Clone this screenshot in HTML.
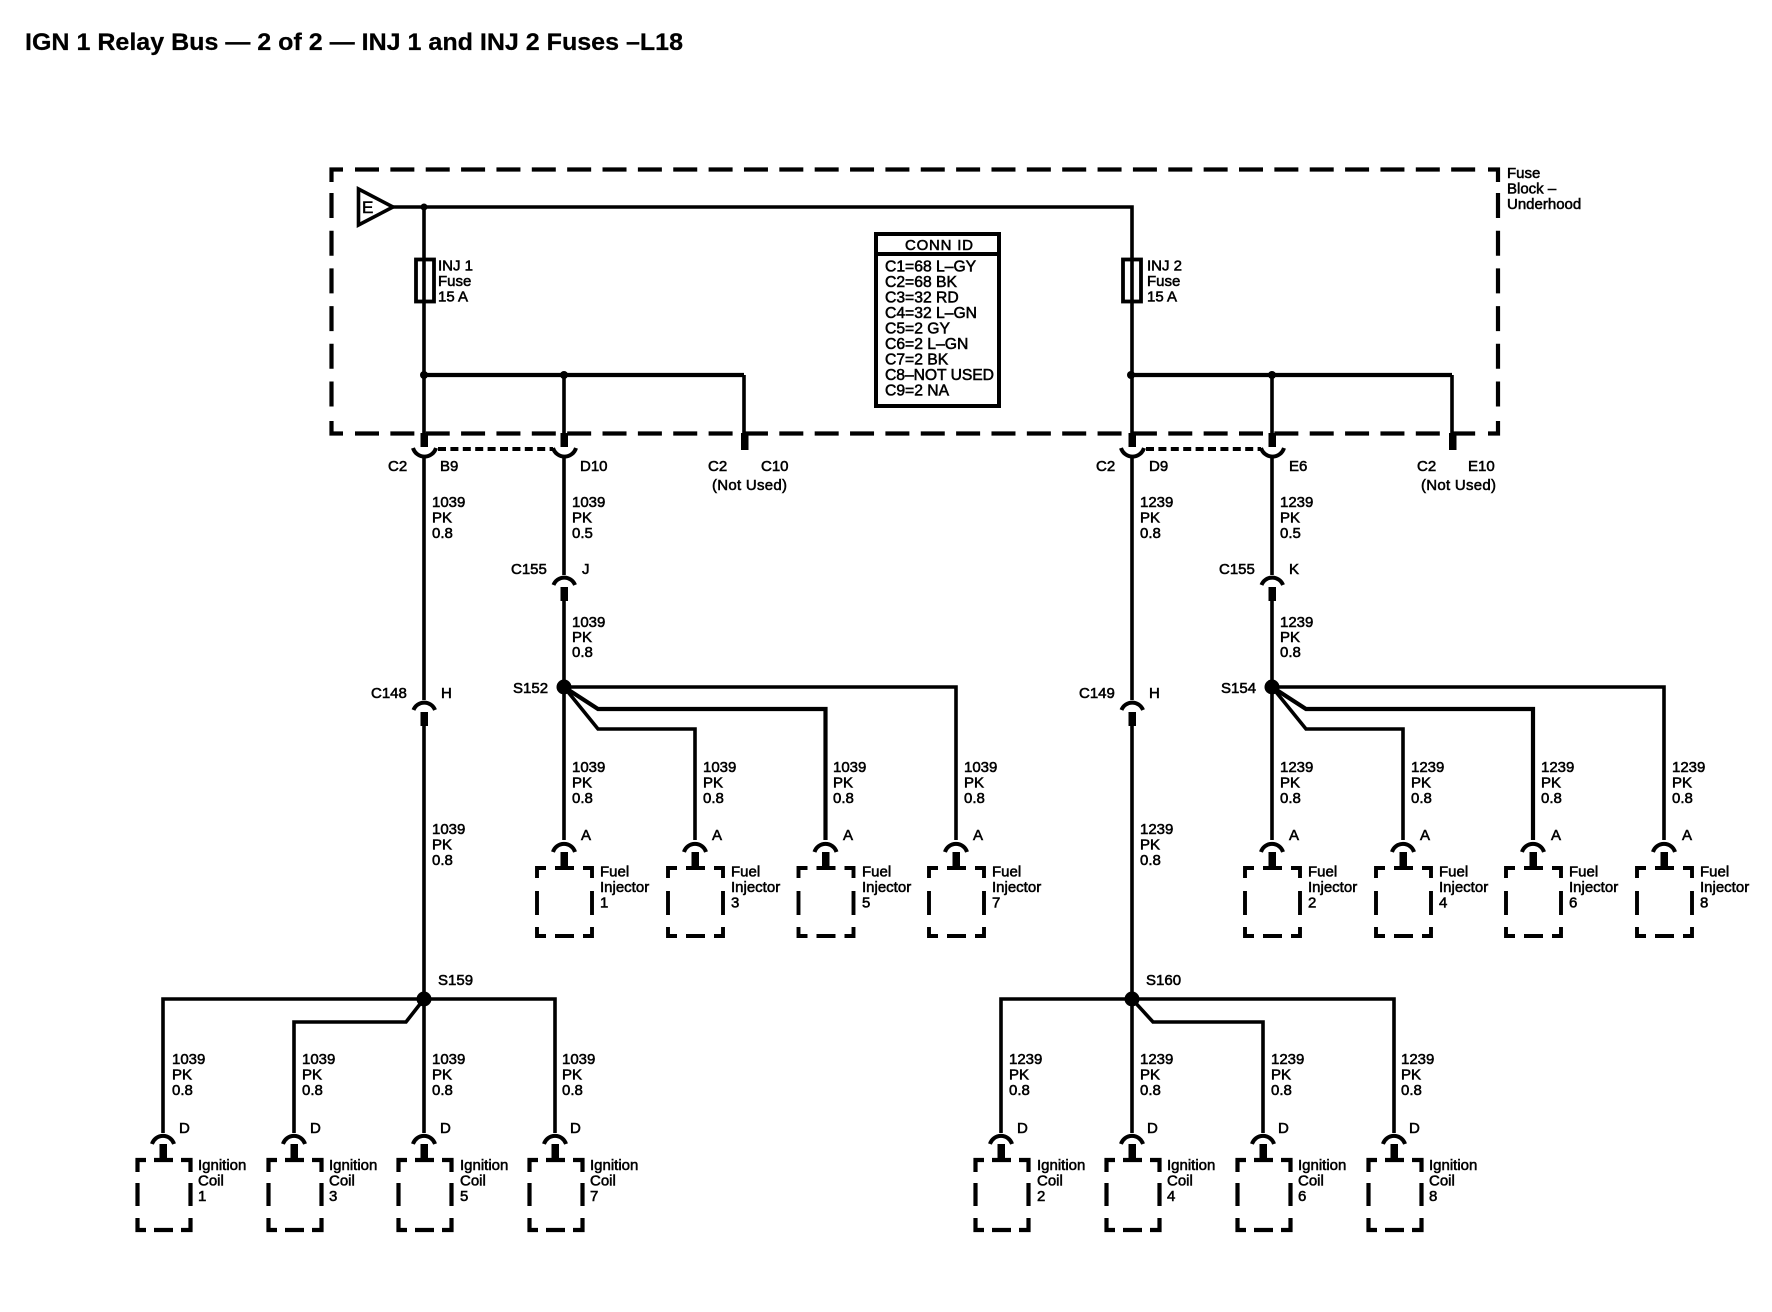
<!DOCTYPE html>
<html><head><meta charset="utf-8"><title>IGN 1 Relay Bus</title>
<style>
html,body{margin:0;padding:0;background:#fff;width:1772px;height:1312px;overflow:hidden}
svg{display:block}
text{font-family:"Liberation Sans",sans-serif;font-size:15px;fill:#000;stroke:#000;stroke-width:.55px}
.w{fill:none;stroke:#000;stroke-width:3.6;stroke-linejoin:miter}
</style></head><body>
<svg width="1772" height="1312" viewBox="0 0 1772 1312" xmlns="http://www.w3.org/2000/svg">
<defs>
<g id="fuel" fill="none" stroke="#000">
<path d="M-11,852A11.5,11.5 0 0 1 11,852" stroke-width="4"/>
<rect x="-3.5" y="852" width="7.5" height="15" fill="#000" stroke="none"/>
<path stroke-width="3.9" d="M-27,878V868H-18M-9,868H10M19,868H28V878M-27,891V915M28,891V915M-27,927V936H-18M-9,936H10M19,936H28V927"/>
</g>
<g id="coil" fill="none" stroke="#000">
<path d="M-11,1144A11.5,11.5 0 0 1 11,1144" stroke-width="4"/>
<rect x="-3.5" y="1144" width="7.5" height="16" fill="#000" stroke="none"/>
<path stroke-width="4.2" d="M-25.5,1172V1160H-17M-9,1160H10M18,1160H27.5V1172M-25.5,1183V1206M27.5,1183V1206M-25.5,1218V1230H-17M-9,1230H10M18,1230H27.5V1218"/>
</g>
<g id="cupd" fill="none" stroke="#000">
<rect x="-3.5" y="433" width="7.5" height="14" fill="#000" stroke="none"/>
<path d="M-11,448A12,12 0 0 0 12,448" stroke-width="4"/>
</g>
<g id="cupu" fill="none" stroke="#000">
<path d="M-10.5,10A11.5,11.5 0 0 1 11,10" stroke-width="4"/>
<rect x="-3.5" y="12" width="7.5" height="14" fill="#000" stroke="none"/>
</g>
</defs>

<text x="25" y="50" textLength="658" lengthAdjust="spacingAndGlyphs" style="font-size:24px;font-weight:bold;stroke-width:.25px">IGN 1 Relay Bus — 2 of 2 — INJ 1 and INJ 2 Fuses –L18</text>

<!-- fuse block dashed outline -->
<g fill="none" stroke="#000" stroke-width="4.2">
<path d="M331.5,182V169.5H343M331.5,421V433.5H343M1488,169.5H1498V182M1488,433.5H1498V421"/>
<path d="M355,169.5H1477M355,433.5H1477" stroke-dasharray="24 11.36"/>
<path d="M331.5,193V409M1498,193V409" stroke-dasharray="25 12.7"/>
</g>

<!-- E triangle -->
<polygon points="358.5,189 358.5,225 393,207" fill="#fff" stroke="#000" stroke-width="3.6"/>
<text x="362" y="213" style="font-size:17px">E</text>

<!-- top rail -->
<path class="w" d="M391,207H1132V433"/>
<path class="w" d="M424,207V433"/>
<circle cx="424" cy="207" r="3.5"/>
<rect x="416" y="259.5" width="18" height="42" fill="none" stroke="#000" stroke-width="3.8"/>
<rect x="1123" y="259.5" width="18" height="42" fill="none" stroke="#000" stroke-width="3.8"/>
<text x="438" y="270.5">INJ 1<tspan x="438" dy="15.7">Fuse</tspan><tspan x="438" dy="15.5">15 A</tspan></text>
<text x="1147" y="270.5">INJ 2<tspan x="1147" dy="15.7">Fuse</tspan><tspan x="1147" dy="15.5">15 A</tspan></text>

<!-- buses -->
<path class="w" style="stroke-width:4.2" d="M424,375H744"/>
<path class="w" style="stroke-width:4.2" d="M1132,375H1452"/>
<path class="w" d="M564,375V433M744,375V433M1272,375V433M1452,375V433"/>
<circle cx="424" cy="375" r="4"/><circle cx="564" cy="375" r="4"/>
<circle cx="1131" cy="375" r="4"/><circle cx="1272" cy="375" r="4"/>
<rect x="741" y="433" width="7.5" height="17"/>
<rect x="1449" y="433" width="7.5" height="17"/>

<!-- C2 connectors -->
<use href="#cupd" x="424"/><use href="#cupd" x="564"/><use href="#cupd" x="1132"/><use href="#cupd" x="1272"/>
<path d="M438,449H553M1146,449H1261" fill="none" stroke="#000" stroke-width="4" stroke-dasharray="8 4.4"/>
<text x="388" y="471">C2</text><text x="440" y="471">B9</text><text x="580" y="471">D10</text>
<text x="708" y="471">C2</text><text x="761" y="471">C10</text><text x="712" y="490" textLength="75">(Not Used)</text>
<text x="1096" y="471">C2</text><text x="1149" y="471">D9</text><text x="1289" y="471">E6</text>
<text x="1417" y="471">C2</text><text x="1468" y="471">E10</text><text x="1421" y="490" textLength="75">(Not Used)</text>

<g transform="translate(-1,0)">
<text x="433" y="507">1039<tspan x="433" dy="15.5">PK</tspan><tspan x="433" dy="15.5">0.8</tspan></text>
<text x="573" y="507">1039<tspan x="573" dy="15.5">PK</tspan><tspan x="573" dy="15.5">0.5</tspan></text>
<text x="1141" y="507">1239<tspan x="1141" dy="15.5">PK</tspan><tspan x="1141" dy="15.5">0.8</tspan></text>
<text x="1281" y="507">1239<tspan x="1281" dy="15.5">PK</tspan><tspan x="1281" dy="15.5">0.5</tspan></text>
<text x="573" y="627">1039<tspan x="573" dy="15">PK</tspan><tspan x="573" dy="15">0.8</tspan></text>
<text x="1281" y="627">1239<tspan x="1281" dy="15">PK</tspan><tspan x="1281" dy="15">0.8</tspan></text>
<text x="433" y="834">1039<tspan x="433" dy="15.5">PK</tspan><tspan x="433" dy="15.5">0.8</tspan></text>
<text x="1141" y="834">1239<tspan x="1141" dy="15.5">PK</tspan><tspan x="1141" dy="15.5">0.8</tspan></text>
</g>

<!-- vertical runs -->
<path class="w" d="M424,458V700M424,726V999M564,458V575M564,600V840"/>
<path class="w" d="M1132,458V700M1132,726V999M1272,458V575M1272,600V840"/>

<use href="#cupu" x="424" y="700"/><use href="#cupu" x="564" y="575"/>
<use href="#cupu" x="1132" y="700"/><use href="#cupu" x="1272" y="575"/>

<text x="371" y="698">C148</text><text x="441" y="698">H</text>
<text x="511" y="574">C155</text><text x="582" y="574">J</text>
<text x="1079" y="698">C149</text><text x="1149" y="698">H</text>
<text x="1219" y="574">C155</text><text x="1289" y="574">K</text>

<!-- CONN ID -->
<rect x="876" y="234" width="123" height="172" fill="#fff" stroke="#000" stroke-width="4"/>
<path d="M876,254H999" stroke="#000" stroke-width="4"/>
<text x="905" y="250" textLength="68">CONN ID</text>
<g style="font-size:15.7px">
<text x="885" y="271.5" style="font-size:15.7px">C1=68 L–GY</text>
<text x="885" y="287" style="font-size:15.7px">C2=68 BK</text>
<text x="885" y="302.5" style="font-size:15.7px">C3=32 RD</text>
<text x="885" y="318" style="font-size:15.7px">C4=32 L–GN</text>
<text x="885" y="333.5" style="font-size:15.7px">C5=2 GY</text>
<text x="885" y="349" style="font-size:15.7px">C6=2 L–GN</text>
<text x="885" y="364.5" style="font-size:15.7px">C7=2 BK</text>
<text x="885" y="380" textLength="109" style="font-size:15.7px">C8–NOT USED</text>
<text x="885" y="395.5" style="font-size:15.7px">C9=2 NA</text>
</g>

<text x="1507" y="178">Fuse<tspan x="1507" dy="15.7">Block –</tspan><tspan x="1507" dy="15.5">Underhood</tspan></text>

<!-- S152 group -->
<circle cx="564" cy="687" r="7.5"/>
<text x="513" y="693">S152</text>
<path class="w" d="M564,687H956V840"/>
<path class="w" style="stroke-width:4.2" d="M564,687L598,709H825.5V840"/>
<path class="w" d="M564,687L598,729H695V840"/>
<use href="#fuel" x="564"/><use href="#fuel" x="695"/><use href="#fuel" x="825.5"/><use href="#fuel" x="956"/>
<text x="581" y="840">A</text><text x="712" y="840">A</text><text x="843" y="840">A</text><text x="973" y="840">A</text>
<g transform="translate(-1,0)">
<text x="573" y="772">1039<tspan x="573" dy="15.5">PK</tspan><tspan x="573" dy="15.5">0.8</tspan></text>
<text x="704" y="772">1039<tspan x="704" dy="15.5">PK</tspan><tspan x="704" dy="15.5">0.8</tspan></text>
<text x="834" y="772">1039<tspan x="834" dy="15.5">PK</tspan><tspan x="834" dy="15.5">0.8</tspan></text>
<text x="965" y="772">1039<tspan x="965" dy="15.5">PK</tspan><tspan x="965" dy="15.5">0.8</tspan></text>
</g>
<text x="600" y="876.5">Fuel<tspan x="600" dy="15.5">Injector</tspan><tspan x="600" dy="15.5">1</tspan></text>
<text x="731" y="876.5">Fuel<tspan x="731" dy="15.5">Injector</tspan><tspan x="731" dy="15.5">3</tspan></text>
<text x="862" y="876.5">Fuel<tspan x="862" dy="15.5">Injector</tspan><tspan x="862" dy="15.5">5</tspan></text>
<text x="992" y="876.5">Fuel<tspan x="992" dy="15.5">Injector</tspan><tspan x="992" dy="15.5">7</tspan></text>

<!-- S154 group -->
<circle cx="1272" cy="687" r="7.5"/>
<text x="1221" y="693">S154</text>
<path class="w" d="M1272,687H1664V840"/>
<path class="w" style="stroke-width:4.2" d="M1272,687L1306,709H1533V840"/>
<path class="w" d="M1272,687L1306,729H1403V840"/>
<use href="#fuel" x="1272"/><use href="#fuel" x="1403"/><use href="#fuel" x="1533"/><use href="#fuel" x="1664"/>
<text x="1289" y="840">A</text><text x="1420" y="840">A</text><text x="1551" y="840">A</text><text x="1682" y="840">A</text>
<text x="1280" y="772">1239<tspan x="1280" dy="15.5">PK</tspan><tspan x="1280" dy="15.5">0.8</tspan></text>
<text x="1411" y="772">1239<tspan x="1411" dy="15.5">PK</tspan><tspan x="1411" dy="15.5">0.8</tspan></text>
<text x="1541" y="772">1239<tspan x="1541" dy="15.5">PK</tspan><tspan x="1541" dy="15.5">0.8</tspan></text>
<text x="1672" y="772">1239<tspan x="1672" dy="15.5">PK</tspan><tspan x="1672" dy="15.5">0.8</tspan></text>
<text x="1308" y="876.5">Fuel<tspan x="1308" dy="15.5">Injector</tspan><tspan x="1308" dy="15.5">2</tspan></text>
<text x="1439" y="876.5">Fuel<tspan x="1439" dy="15.5">Injector</tspan><tspan x="1439" dy="15.5">4</tspan></text>
<text x="1569" y="876.5">Fuel<tspan x="1569" dy="15.5">Injector</tspan><tspan x="1569" dy="15.5">6</tspan></text>
<text x="1700" y="876.5">Fuel<tspan x="1700" dy="15.5">Injector</tspan><tspan x="1700" dy="15.5">8</tspan></text>

<!-- S159 group -->
<circle cx="424" cy="999" r="7.5"/>
<text x="438" y="985">S159</text>
<path class="w" d="M163,1133V999H555V1133"/>
<path class="w" d="M424,999V1133"/>
<path class="w" d="M424,999L406,1022H294V1133"/>
<use href="#coil" x="163"/><use href="#coil" x="294"/><use href="#coil" x="424"/><use href="#coil" x="555"/>
<text x="179" y="1133">D</text><text x="310" y="1133">D</text><text x="440" y="1133">D</text><text x="570" y="1133">D</text>
<g transform="translate(-1,0)">
<text x="173" y="1064">1039<tspan x="173" dy="15.5">PK</tspan><tspan x="173" dy="15.5">0.8</tspan></text>
<text x="303" y="1064">1039<tspan x="303" dy="15.5">PK</tspan><tspan x="303" dy="15.5">0.8</tspan></text>
<text x="433" y="1064">1039<tspan x="433" dy="15.5">PK</tspan><tspan x="433" dy="15.5">0.8</tspan></text>
<text x="563" y="1064">1039<tspan x="563" dy="15.5">PK</tspan><tspan x="563" dy="15.5">0.8</tspan></text>
</g>
<text x="198" y="1170">Ignition<tspan x="198" dy="15.5">Coil</tspan><tspan x="198" dy="15.5">1</tspan></text>
<text x="329" y="1170">Ignition<tspan x="329" dy="15.5">Coil</tspan><tspan x="329" dy="15.5">3</tspan></text>
<text x="460" y="1170">Ignition<tspan x="460" dy="15.5">Coil</tspan><tspan x="460" dy="15.5">5</tspan></text>
<text x="590" y="1170">Ignition<tspan x="590" dy="15.5">Coil</tspan><tspan x="590" dy="15.5">7</tspan></text>

<!-- S160 group -->
<circle cx="1132" cy="999" r="7.5"/>
<text x="1146" y="985">S160</text>
<path class="w" d="M1001,1133V999H1394V1133"/>
<path class="w" d="M1132,999V1133"/>
<path class="w" d="M1132,999L1153,1022H1263V1133"/>
<use href="#coil" x="1001"/><use href="#coil" x="1132"/><use href="#coil" x="1263"/><use href="#coil" x="1394"/>
<text x="1017" y="1133">D</text><text x="1147" y="1133">D</text><text x="1278" y="1133">D</text><text x="1409" y="1133">D</text>
<g transform="translate(-1,0)">
<text x="1010" y="1064">1239<tspan x="1010" dy="15.5">PK</tspan><tspan x="1010" dy="15.5">0.8</tspan></text>
<text x="1141" y="1064">1239<tspan x="1141" dy="15.5">PK</tspan><tspan x="1141" dy="15.5">0.8</tspan></text>
<text x="1272" y="1064">1239<tspan x="1272" dy="15.5">PK</tspan><tspan x="1272" dy="15.5">0.8</tspan></text>
<text x="1402" y="1064">1239<tspan x="1402" dy="15.5">PK</tspan><tspan x="1402" dy="15.5">0.8</tspan></text>
</g>
<text x="1037" y="1170">Ignition<tspan x="1037" dy="15.5">Coil</tspan><tspan x="1037" dy="15.5">2</tspan></text>
<text x="1167" y="1170">Ignition<tspan x="1167" dy="15.5">Coil</tspan><tspan x="1167" dy="15.5">4</tspan></text>
<text x="1298" y="1170">Ignition<tspan x="1298" dy="15.5">Coil</tspan><tspan x="1298" dy="15.5">6</tspan></text>
<text x="1429" y="1170">Ignition<tspan x="1429" dy="15.5">Coil</tspan><tspan x="1429" dy="15.5">8</tspan></text>
</svg>
</body></html>
